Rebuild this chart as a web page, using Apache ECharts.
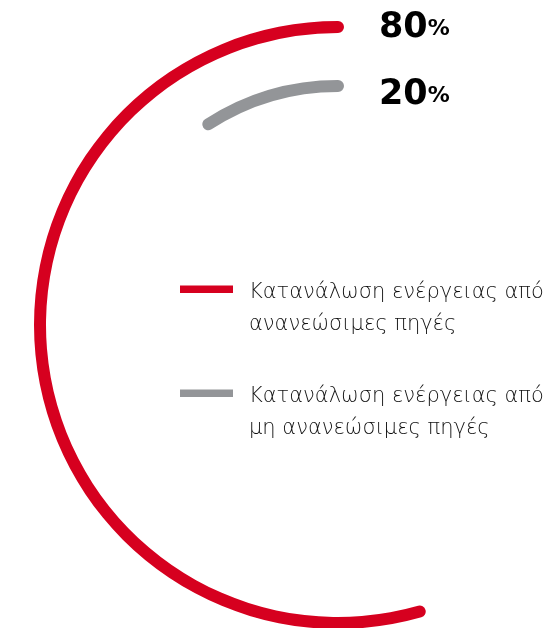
<!DOCTYPE html>
<html><head><meta charset="utf-8">
<script src="https://cdn.jsdelivr.net/npm/echarts@6/dist/echarts.min.js"></script>
<style>html,body{margin:0;padding:0;background:#fff}#c{width:560px;height:628px}</style>
</head><body><div id="c"></div>
<script>
const categories = ['Κατανάλωση ενέργειας από\nανανεώσιμες πηγές', 'Κατανάλωση ενέργειας από\nμη ανανεώσιμες πηγές'];
const values = [80, 20];
const unit = '%';
const colors = ['#d6001f', '#939598'];
const angleMax = [147, 219];

const chart = echarts.init(document.getElementById('c'), null, {renderer: 'canvas'});
const CX = 338, CY = 325;
const rings = [[286, 310], [227, 251]];
const hidden = {axisLine: {show: false}, axisTick: {show: false}, axisLabel: {show: false}, splitLine: {show: false}};

const option = {
  animation: false,
  polar: rings.map(r => ({center: [CX, CY], radius: r})),
  angleAxis: values.map((v, i) => Object.assign({polarIndex: i, type: 'value', min: 0, max: angleMax[i], startAngle: 90, clockwise: false}, hidden)),
  radiusAxis: values.map((v, i) => Object.assign({polarIndex: i, type: 'category', data: [categories[i]]}, hidden)),
  legend: {
    orient: 'vertical', left: 180, top: 277, padding: 0, itemGap: 40,
    itemWidth: 53, itemHeight: 47, selectedMode: false,
    icon: 'path://M0,0H53V7.6H0Z M0,46.9H0.1V47H0Z',
    data: categories,
    textStyle: {fontFamily: 'DejaVu Sans', fontWeight: 200, fontSize: 21, color: '#111', lineHeight: 32, padding: [0, 0, 0, 11]}
  },
  graphic: values.map((v, i) => ({
    type: 'text', left: 379, top: 10.7 + i * 66.7,
    style: {
      text: '{a|' + v + '}{b|' + unit + '}',
      rich: {
        a: {fontFamily: 'DejaVu Sans', fontWeight: 'bold', fontSize: 35, fill: '#000', lineHeight: 40, verticalAlign: 'bottom'},
        b: {fontFamily: 'DejaVu Sans', fontWeight: 'bold', fontSize: 22, fill: '#000', lineHeight: 40, verticalAlign: 'bottom', padding: [0, 0, 5, 0]}
      }
    }
  })),
  series: values.map((v, i) => ({
    type: 'bar', coordinateSystem: 'polar', polarIndex: i, name: categories[i],
    data: [v], barWidth: 12, roundCap: true, itemStyle: {color: colors[i]}
  }))
};
chart.setOption(option);
</script></body></html>
